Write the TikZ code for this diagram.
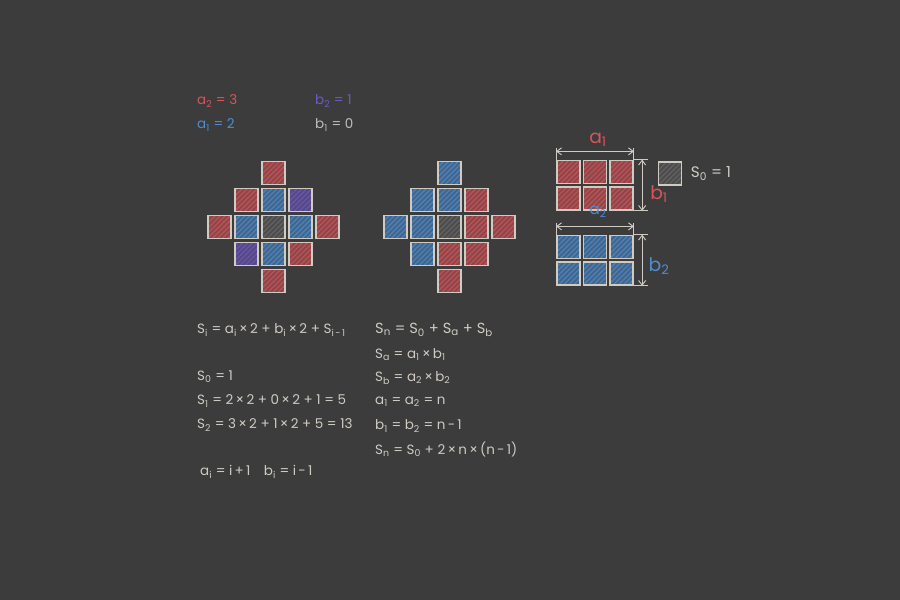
\documentclass[tikz,border=0pt]{standalone}
\usepackage{fontspec}
\setmainfont{Poppins}
\usetikzlibrary{patterns.meta, arrows.meta, positioning}

\definecolor{board}{HTML}{3C3C3C}
\definecolor{chalk}{HTML}{CFCBC3}
\definecolor{chred}{HTML}{D9545A}
\definecolor{chblue}{HTML}{4B8ED4}
\definecolor{chpurple}{HTML}{7058C4}
\definecolor{chgray}{HTML}{BDBDBD}
\newcommand{\sbs}[1]{\textsubscript{#1}}

\begin{document}
\begin{tikzpicture}[
    x=0.03cm, y=-0.03cm,
    cell/.style={draw=chalk, line width=1.3pt, minimum size=0.7cm, inner sep=0pt},
    redcell/.style={cell, preaction={fill=chred!50!board}, pattern={Lines[angle=45,distance=3pt,line width=1.1pt]}, pattern color=chred!85!board},
    bluecell/.style={cell, preaction={fill=chblue!50!board}, pattern={Lines[angle=45,distance=3pt,line width=1.1pt]}, pattern color=chblue!85!board},
    purplecell/.style={cell, preaction={fill=chpurple!50!board}, pattern={Lines[angle=45,distance=3pt,line width=1.1pt]}, pattern color=chpurple!85!board},
    graycell/.style={cell, preaction={fill=gray!25!board}, pattern={Lines[angle=45,distance=3pt,line width=0.9pt]}, pattern color=gray!60!board},
    eq/.style={anchor=west, text=chalk, inner sep=0pt, font=\fontsize{11.5}{13}\selectfont},
    lbl/.style={inner sep=0pt, font=\fontsize{16}{18}\selectfont},
    dim/.style={draw=chalk, line width=0.8pt, {Straight Barb[length=4pt,width=6pt]}-{Straight Barb[length=4pt,width=6pt]}},
    tick/.style={draw=chalk, line width=0.8pt}
]

% board
\fill[board] (0,0) rectangle (900,600);

% values of a and b
\node[eq, text=chred] (a2val) at (197,101) {a\sbs{2} = 3};
\node[eq, text=chpurple] (b2val) at (315,101) {b\sbs{2} = 1};
\node[eq, text=chblue] (a1val) at (197,125) {a\sbs{1} = 2};
\node[eq, text=chgray] (b1val) at (315,125) {b\sbs{1} = 0};

% left diamond
\foreach \c/\r/\s in {2/0/redcell, 1/1/redcell, 2/1/bluecell, 3/1/purplecell,
    0/2/redcell, 1/2/bluecell, 2/2/graycell, 3/2/bluecell, 4/2/redcell,
    1/3/purplecell, 2/3/bluecell, 3/3/redcell, 2/4/redcell}
  \node[\s] (l\c\r) at ({219.5+27*\c},{173+27*\r}) {};

% right diamond
\foreach \c/\r/\s in {2/0/bluecell, 1/1/bluecell, 2/1/bluecell, 3/1/redcell,
    0/2/bluecell, 1/2/bluecell, 2/2/graycell, 3/2/redcell, 4/2/redcell,
    1/3/bluecell, 2/3/redcell, 3/3/redcell, 2/4/redcell}
  \node[\s] (r\c\r) at ({395.5+27*\c},{173+27*\r}) {};

% rectangles a x b
\foreach \c in {0,1,2}
  \foreach \r in {0,1} {
    \node[redcell] (a\c\r) at ({568.5+26.5*\c},{172+26.5*\r}) {};
    \node[bluecell] (b\c\r) at ({568.5+26.5*\c},{247+26.5*\r}) {};
  }
\node[graycell] (s0cell) at (670,173.5) {};
\node[eq, font=\fontsize{13}{15}\selectfont, right=7pt of s0cell] (s0txt) {S\sbs{0} = 1};

% dimensions
\draw[tick] (a00.north west) -- ([yshift=10pt]a00.north west);
\draw[tick] (a20.north east) -- ([yshift=10pt]a20.north east);
\draw[dim] ([yshift=7pt]a00.north west) -- ([yshift=7pt]a20.north east);
\node[lbl, text=chred] (a1lbl) at (598,140) {a\sbs{1}};

\draw[tick] (a20.north east) -- ([xshift=12pt]a20.north east);
\draw[tick] (a21.south east) -- ([xshift=12pt]a21.south east);
\draw[dim] ([xshift=7pt]a20.north east) -- ([xshift=7pt]a21.south east);
\node[lbl, text=chred] (b1lbl) at (659,194) {b\sbs{1}};

\draw[tick] (b00.north west) -- ([yshift=10pt]b00.north west);
\draw[tick] (b20.north east) -- ([yshift=10pt]b20.north east);
\draw[dim] ([yshift=7pt]b00.north west) -- ([yshift=7pt]b20.north east);
\node[lbl, text=chblue, font=\fontsize{13}{15}\selectfont] (a2lbl) at (598,212) {a\sbs{2}};

\draw[tick] (b20.north east) -- ([xshift=12pt]b20.north east);
\draw[tick] (b21.south east) -- ([xshift=12pt]b21.south east);
\draw[dim] ([xshift=7pt]b20.north east) -- ([xshift=7pt]b21.south east);
\node[lbl, text=chblue] (b2lbl) at (659,266) {b\sbs{2}};

% recursive formula
\node[eq] (si) at (197,330) {S\sbs{i} = a\sbs{i}\,×\,2 + b\sbs{i}\,×\,2 + S\sbs{i\,-\,1}};
\node[eq] (s0) at (197,377) {S\sbs{0} = 1};
\node[eq] (s1) at (197,401) {S\sbs{1} = 2\,×\,2 + 0\,×\,2 + 1 = 5};
\node[eq] (s2) at (197,425) {S\sbs{2} = 3\,×\,2 + 1\,×\,2 + 5 = 13};
\node[eq] (ai) at (200,472) {a\sbs{i} = i\,+\,1\quad b\sbs{i} = i\,-\,1};

% closed formula
\node[eq, font=\fontsize{12.5}{14}\selectfont] (sn) at (375,330) {S\sbs{n} = S\sbs{0} + S\sbs{a} + S\sbs{b}};
\node[eq] (sa) at (375,355) {S\sbs{a} = a\sbs{1}\,×\,b\sbs{1}};
\node[eq] (sb) at (375,378) {S\sbs{b} = a\sbs{2}\,×\,b\sbs{2}};
\node[eq] (an) at (375,402) {a\sbs{1} = a\sbs{2} = n};
\node[eq] (bn) at (375,426) {b\sbs{1} = b\sbs{2} = n\,-\,1};
\node[eq] (snf) at (375,449) {S\sbs{n} = S\sbs{0} + 2\,×\,n\,×\,(n\,-\,1)};

\end{tikzpicture}
\end{document}
